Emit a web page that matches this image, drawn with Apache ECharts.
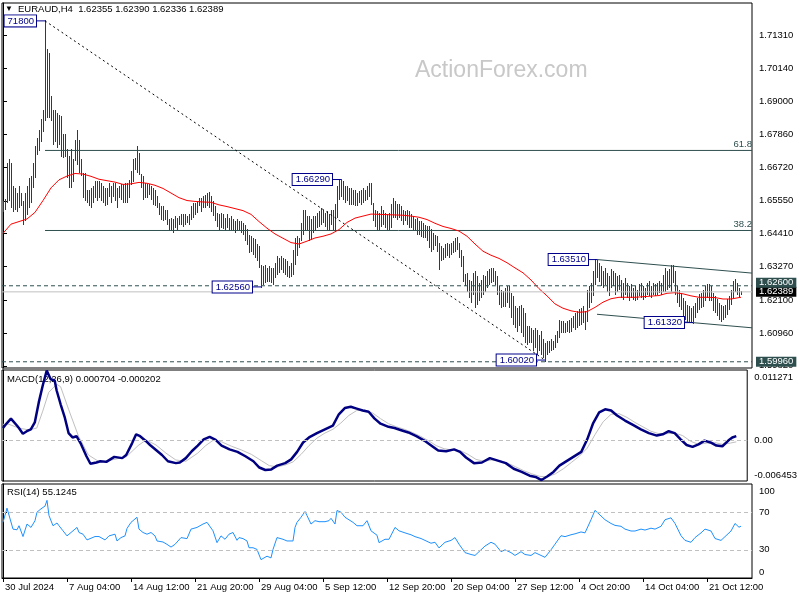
<!DOCTYPE html>
<html><head><meta charset="utf-8">
<script src="https://cdn.jsdelivr.net/npm/echarts@6/dist/echarts.min.js"></script>
<style>html,body{margin:0;padding:0;background:#fff}#c{width:800px;height:600px}</style>
</head><body><div id="c"></div>
<script>
// ---------------- data ----------------
const headerSymbol = 'EURAUD,H4';
const headerOHLC = ['1.62355', '1.62390', '1.62336', '1.62389'];
const macdTitle = 'MACD(12,26,9)';
const macdValues = ['0.000704', '-0.000202'];
const rsiTitle = 'RSI(14)';
const rsiValue = '55.1245';
const watermark = 'ActionForex.com';

const timeLabels = ['30 Jul 2024', '7 Aug 04:00', '14 Aug 12:00', '21 Aug 20:00', '29 Aug 04:00', '5 Sep 12:00',
  '12 Sep 20:00', '20 Sep 04:00', '27 Sep 12:00', '4 Oct 20:00', '14 Oct 04:00', '21 Oct 12:00'];
const timeLabelBars = [0, 32, 64, 96, 128, 160, 192, 224, 256, 288, 320, 352];
const priceTicks = [1.71310, 1.70140, 1.69000, 1.67860, 1.66720, 1.65550, 1.64410, 1.63270, 1.62100, 1.60960, 1.59820];
const priceMin = 1.59744, priceMax = 1.72421;
const macdTicks = [0.011271, 0, -0.006453];
const rsiTicks = [100, 70, 30, 0];
const rsiLevels = [70, 30];
const emptyBarsRight = 5;

// H4 bar highs / lows (bar 0 = 30 Jul 20:00)
const highs = [
1.6552,1.6558,1.6685,1.6699,1.6685,1.6604,1.6598,1.6581,1.6604,1.6581,
1.6552,1.6581,1.6604,1.6633,1.6639,1.6685,1.6743,1.6772,1.6801,1.6836,
1.6870,1.7180,1.7079,1.7067,1.6917,1.6870,1.6870,1.6859,1.6853,1.6847,
1.6784,1.6784,1.6732,1.6708,1.6732,1.6697,1.6766,1.6801,1.6766,1.6697,
1.6651,1.6651,1.6592,1.6592,1.6598,1.6604,1.6621,1.6621,1.6621,1.6616,
1.6604,1.6598,1.6598,1.6616,1.6604,1.6616,1.6616,1.6598,1.6604,1.6610,
1.6610,1.6616,1.6616,1.6627,1.6656,1.6697,1.6703,1.6745,1.6720,1.6645,
1.6639,1.6616,1.6610,1.6610,1.6604,1.6598,1.6592,1.6569,1.6546,1.6535,
1.6535,1.6523,1.6523,1.6489,1.6494,1.6489,1.6500,1.6494,1.6500,1.6506,
1.6506,1.6506,1.6500,1.6506,1.6535,1.6546,1.6546,1.6552,1.6564,1.6564,
1.6569,1.6575,1.6581,1.6583,1.6569,1.6552,1.6535,1.6512,1.6506,1.6512,
1.6506,1.6494,1.6506,1.6494,1.6500,1.6489,1.6483,1.6489,1.6483,1.6483,
1.6477,1.6471,1.6454,1.6436,1.6431,1.6425,1.6419,1.6402,1.6396,1.6332,
1.6326,1.6332,1.6321,1.6326,1.6321,1.6321,1.6338,1.6361,1.6355,1.6361,
1.6355,1.6350,1.6344,1.6326,1.6338,1.6384,1.6425,1.6431,1.6425,1.6477,
1.6523,1.6523,1.6500,1.6500,1.6489,1.6500,1.6500,1.6512,1.6517,1.6529,
1.6523,1.6512,1.6517,1.6506,1.6523,1.6523,1.6541,1.6604,1.6629,1.6629,
1.6622,1.6604,1.6604,1.6598,1.6598,1.6592,1.6592,1.6581,1.6587,1.6592,
1.6598,1.6592,1.6604,1.6616,1.6616,1.6546,1.6523,1.6517,1.6512,1.6535,
1.6523,1.6512,1.6506,1.6512,1.6541,1.6564,1.6552,1.6541,1.6541,1.6535,
1.6523,1.6517,1.6523,1.6517,1.6506,1.6500,1.6489,1.6494,1.6483,1.6483,
1.6477,1.6471,1.6465,1.6465,1.6454,1.6442,1.6436,1.6431,1.6407,1.6396,
1.6390,1.6402,1.6407,1.6402,1.6407,1.6413,1.6425,1.6428,1.6407,1.6384,
1.6361,1.6298,1.6303,1.6280,1.6274,1.6303,1.6309,1.6292,1.6268,1.6280,
1.6297,1.6292,1.6309,1.6315,1.6321,1.6321,1.6309,1.6292,1.6257,1.6245,
1.6240,1.6251,1.6257,1.6257,1.6234,1.6222,1.6187,1.6182,1.6187,1.6193,
1.6182,1.6164,1.6118,1.6118,1.6112,1.6106,1.6112,1.6106,1.6089,1.6101,
1.6072,1.6060,1.6066,1.6066,1.6072,1.6066,1.6089,1.6101,1.6141,1.6135,
1.6135,1.6129,1.6135,1.6141,1.6147,1.6153,1.6164,1.6170,1.6176,1.6182,
1.6187,1.6170,1.6245,1.6257,1.6268,1.6309,1.6350,1.6351,1.6338,1.6326,
1.6309,1.6321,1.6303,1.6292,1.6315,1.6309,1.6303,1.6292,1.6297,1.6280,
1.6268,1.6286,1.6268,1.6257,1.6263,1.6251,1.6257,1.6245,1.6263,1.6268,
1.6257,1.6251,1.6268,1.6274,1.6257,1.6268,1.6263,1.6268,1.6274,1.6268,
1.6297,1.6321,1.6309,1.6315,1.6329,1.6332,1.6309,1.6257,1.6245,1.6234,
1.6216,1.6205,1.6193,1.6187,1.6182,1.6187,1.6199,1.6216,1.6228,1.6234,
1.6245,1.6257,1.6263,1.6263,1.6257,1.6234,1.6222,1.6211,1.6199,1.6193,
1.6187,1.6193,1.6211,1.6222,1.6245,1.6274,1.6282,1.6268,1.6251,1.62390
];
const lows = [
1.6523,1.6529,1.6552,1.6558,1.6535,1.6523,1.6529,1.6523,1.6535,1.6541,
1.6477,1.6489,1.6512,1.6535,1.6552,1.6604,1.6639,1.6720,1.6732,1.6766,
1.6801,1.6836,1.6847,1.6847,1.6836,1.6755,1.6766,1.6743,1.6755,1.6714,
1.6708,1.6714,1.6639,1.6604,1.6604,1.6627,1.6697,1.6685,1.6656,1.6645,
1.6569,1.6558,1.6552,1.6541,1.6535,1.6552,1.6569,1.6558,1.6569,1.6558,
1.6552,1.6541,1.6546,1.6575,1.6552,1.6575,1.6558,1.6535,1.6569,1.6564,
1.6552,1.6552,1.6552,1.6569,1.6616,1.6627,1.6668,1.6656,1.6651,1.6604,
1.6564,1.6569,1.6569,1.6581,1.6564,1.6546,1.6541,1.6535,1.6512,1.6494,
1.6489,1.6494,1.6477,1.6454,1.6454,1.6448,1.6465,1.6460,1.6477,1.6477,
1.6471,1.6477,1.6483,1.6477,1.6494,1.6500,1.6512,1.6517,1.6541,1.6523,
1.6535,1.6535,1.6541,1.6535,1.6523,1.6506,1.6489,1.6471,1.6460,1.6465,
1.6463,1.6460,1.6465,1.6454,1.6460,1.6454,1.6448,1.6456,1.6454,1.6448,
1.6442,1.6419,1.6407,1.6378,1.6384,1.6373,1.6361,1.6350,1.6326,1.6256,
1.6268,1.6274,1.6280,1.6280,1.6274,1.6268,1.6292,1.6303,1.6309,1.6321,
1.6309,1.6303,1.6297,1.6292,1.6297,1.6303,1.6338,1.6367,1.6396,1.6419,
1.6442,1.6454,1.6454,1.6419,1.6425,1.6448,1.6454,1.6465,1.6471,1.6477,
1.6483,1.6471,1.6460,1.6454,1.6477,1.6460,1.6456,1.6500,1.6564,1.6575,
1.6564,1.6552,1.6558,1.6546,1.6546,1.6546,1.6541,1.6541,1.6552,1.6546,
1.6552,1.6558,1.6564,1.6575,1.6546,1.6489,1.6471,1.6454,1.6454,1.6471,
1.6477,1.6465,1.6460,1.6460,1.6465,1.6500,1.6500,1.6494,1.6500,1.6489,
1.6477,1.6489,1.6477,1.6465,1.6465,1.6460,1.6454,1.6442,1.6442,1.6436,
1.6431,1.6431,1.6419,1.6396,1.6384,1.6390,1.6402,1.6384,1.6321,1.6350,
1.6355,1.6361,1.6367,1.6361,1.6373,1.6378,1.6384,1.6390,1.6361,1.6332,
1.6280,1.6263,1.6245,1.6222,1.6205,1.6234,1.6187,1.6199,1.6211,1.6222,
1.6234,1.6245,1.6257,1.6268,1.6274,1.6280,1.6268,1.6234,1.6199,1.6187,
1.6193,1.6193,1.6205,1.6187,1.6153,1.6130,1.6118,1.6106,1.6124,1.6101,
1.6089,1.6066,1.6060,1.6066,1.6066,1.6037,1.6049,1.6025,1.6037,1.6025,
1.6015,1.6002,1.6025,1.6031,1.6037,1.6043,1.6049,1.6066,1.6083,1.6101,
1.6101,1.6101,1.6106,1.6101,1.6106,1.6118,1.6112,1.6118,1.6124,1.6130,
1.6135,1.6112,1.6141,1.6187,1.6205,1.6228,1.6268,1.6292,1.6280,1.6263,
1.6257,1.6268,1.6245,1.6228,1.6257,1.6263,1.6234,1.6245,1.6251,1.6222,
1.6216,1.6234,1.6222,1.6211,1.6222,1.6216,1.6211,1.6216,1.6228,1.6222,
1.6216,1.6222,1.6234,1.6228,1.6222,1.6234,1.6228,1.6234,1.6240,1.6234,
1.6245,1.6245,1.6251,1.6257,1.6245,1.6274,1.6234,1.6205,1.6193,1.6182,
1.6159,1.6147,1.6141,1.6135,1.6139,1.6132,1.6153,1.6170,1.6182,1.6187,
1.6193,1.6211,1.6222,1.6211,1.6211,1.6176,1.6170,1.6159,1.6147,1.6141,
1.6147,1.6153,1.6164,1.6182,1.6199,1.6222,1.6245,1.6234,1.6222,1.62336
];

// moving average (red) read at [bar, price]
const maPoints = [[0,1.6442],[4,1.6474],[8,1.6483],[12,1.6492],[16,1.6515],[20,1.6556],[24,1.6600],[28,1.6628],
[32,1.6641],[36,1.6650],[40,1.6648],[44,1.6640],[48,1.6630],[52,1.6625],[56,1.6620],[60,1.6612],[64,1.6614],
[68,1.6619],[72,1.6616],[76,1.6609],[80,1.6598],[84,1.6582],[88,1.6566],[92,1.6556],[96,1.6553],[100,1.6551],
[104,1.6550],[108,1.6541],[112,1.6535],[116,1.6528],[120,1.6521],[124,1.6508],[128,1.6483],[132,1.6460],
[136,1.6440],[140,1.6425],[144,1.6410],[148,1.6405],[152,1.6415],[156,1.6426],[160,1.6432],[164,1.6440],
[168,1.6455],[172,1.6480],[176,1.6495],[180,1.6502],[184,1.6509],[188,1.6508],[192,1.6507],[196,1.6506],
[200,1.6505],[204,1.6502],[208,1.6498],[212,1.6490],[216,1.6477],[220,1.6466],[224,1.6459],[228,1.6450],
[232,1.6432],[236,1.6405],[240,1.6380],[244,1.6366],[248,1.6355],[252,1.6340],[256,1.6322],[260,1.6305],
[264,1.6280],[268,1.6250],[272,1.6225],[276,1.6197],[280,1.6182],[284,1.6173],[288,1.6168],[292,1.6170],
[296,1.6185],[300,1.6203],[304,1.6215],[308,1.6220],[312,1.6220],[316,1.6220],[320,1.6222],[324,1.6224],
[328,1.6226],[332,1.6234],[336,1.6236],[340,1.6232],[344,1.6225],[348,1.6220],[352,1.6220],[356,1.6219],
[360,1.6214],[364,1.6214],[368,1.6219],[369,1.6220]];

const macdPoints = [[0,0.0020],[2,0.0028],[4,0.0035],[7,0.0024],[8,0.0020],[10,0.0011],[12,0.0015],[14,0.0018],
[16,0.0029],[18,0.0061],[20,0.0088],[22,0.0112],[24,0.0098],[26,0.0096],[27,0.0080],[29,0.0058],[31,0.0038],
[33,0.0012],[35,0.0005],[37,0.0007],[39,-0.0004],[42,-0.0025],[44,-0.0037],[47,-0.0035],[49,-0.0033],
[52,-0.0034],[54,-0.0030],[56,-0.0026],[60,-0.0028],[62,-0.0023],[65,-0.0004],[67,0.0010],[69,0.0007],
[72,-0.0001],[74,-0.0007],[77,-0.0015],[80,-0.0023],[83,-0.0033],[87,-0.0036],[89,-0.0035],[92,-0.0028],
[95,-0.0017],[98,-0.0008],[101,0.0002],[104,0.0006],[107,0.0001],[110,-0.0008],[114,-0.0014],[118,-0.0018],
[122,-0.0025],[126,-0.0033],[129,-0.0043],[132,-0.0047],[135,-0.0046],[138,-0.0040],[142,-0.0036],
[145,-0.0030],[148,-0.0018],[151,-0.0003],[154,0.0005],[158,0.0012],[162,0.0018],[166,0.0024],[169,0.0042],
[172,0.0052],[175,0.0054],[178,0.0051],[181,0.0048],[184,0.0046],[187,0.0035],[190,0.0027],[194,0.0022],
[197,0.0020],[200,0.0017],[204,0.0013],[208,0.0007],[212,0.0000],[216,-0.0009],[219,-0.0016],[223,-0.0017],
[227,-0.0014],[230,-0.0018],[233,-0.0027],[237,-0.0036],[241,-0.0035],[245,-0.0028],[249,-0.0032],
[253,-0.0036],[257,-0.0045],[261,-0.0050],[265,-0.0056],[268,-0.0058],[271,-0.0063],[274,-0.0057],
[277,-0.0050],[280,-0.0040],[284,-0.0032],[288,-0.0024],[291,-0.0018],[294,0.0002],[297,0.0028],[300,0.0045],
[303,0.0050],[306,0.0048],[309,0.0040],[313,0.0032],[317,0.0025],[321,0.0018],[325,0.0012],[329,0.0008],
[332,0.0010],[335,0.0015],[338,0.0012],[341,0.0002],[344,-0.0007],[347,-0.0010],[350,-0.0006],[353,0.0000],
[356,-0.0003],[359,-0.0008],[362,-0.0009],[365,0.0000],[367,0.0005],[369,0.000704]];

const signalPoints = [[0,0.0026],[3,0.0026],[8,0.0020],[13,0.0017],[17,0.0020],[20,0.0047],[23,0.0077],
[27,0.0090],[29,0.0086],[33,0.0050],[38,0.0007],[43,-0.0023],[48,-0.0033],[53,-0.0032],[62,-0.0026],
[68,-0.0008],[72,0.0001],[77,-0.0007],[82,-0.0020],[87,-0.0031],[92,-0.0033],[98,-0.0020],[102,-0.0008],
[106,0.0001],[110,-0.0002],[115,-0.0009],[120,-0.0015],[125,-0.0022],[130,-0.0032],[134,-0.0040],
[138,-0.0042],[142,-0.0039],[146,-0.0034],[150,-0.0022],[154,-0.0008],[158,0.0004],[162,0.0012],
[166,0.0018],[170,0.0028],[174,0.0040],[178,0.0048],[182,0.0049],[186,0.0044],[190,0.0035],[194,0.0027],
[198,0.0022],[202,0.0018],[206,0.0013],[210,0.0007],[214,0.0000],[218,-0.0008],[222,-0.0013],[226,-0.0015],
[230,-0.0016],[234,-0.0022],[238,-0.0030],[242,-0.0033],[246,-0.0031],[250,-0.0032],[254,-0.0036],
[258,-0.0042],[262,-0.0048],[266,-0.0053],[270,-0.0057],[274,-0.0058],[278,-0.0053],[282,-0.0045],
[286,-0.0035],[290,-0.0025],[294,-0.0012],[298,0.0010],[302,0.0030],[306,0.0042],[310,0.0043],[314,0.0037],
[318,0.0029],[322,0.0022],[326,0.0015],[330,0.0011],[334,0.0011],[338,0.0012],[342,0.0008],[346,-0.0001],
[350,-0.0006],[354,-0.0004],[358,-0.0003],[362,-0.0006],[366,-0.0004],[369,-0.000202]];

const rsiPoints = [[0,59.2],[2,74.3],[3,72.9],[5,52.0],[7,51.3],[8,55.6],[10,44.1],[12,57.4],[13,59.2],[14,53.8],
[16,61.0],[17,70.0],[19,73.6],[21,76.5],[22,82.6],[23,66.4],[25,55.6],[27,58.5],[28,55.6],[30,50.2],[32,44.8],
[33,44.8],[35,50.2],[37,53.8],[38,48.4],[40,46.6],[42,40.5],[43,41.9],[46,44.1],[48,44.1],[51,40.5],[53,44.8],
[56,46.6],[57,39.4],[59,43.0],[61,44.8],[62,52.7],[64,59.2],[67,64.6],[68,52.0],[70,48.4],[72,46.6],[74,48.4],
[76,44.8],[77,39.4],[80,38.3],[82,35.8],[84,32.9],[86,35.8],[87,35.8],[89,43.0],[92,41.9],[94,52.0],[97,53.8],
[98,52.0],[100,57.4],[102,59.2],[105,50.2],[107,37.6],[109,44.8],[111,41.2],[113,46.6],[115,48.4],[117,40.1],
[118,43.0],[120,41.9],[122,39.4],[123,32.2],[125,32.2],[127,30.4],[129,19.5],[132,23.2],[134,21.4],[135,30.4],
[137,43.0],[138,41.2],[140,41.2],[142,39.4],[143,39.4],[145,39.4],[146,53.8],[147,59.2],[149,64.6],[151,70.7],
[152,66.4],[154,57.4],[156,61.0],[158,59.9],[161,59.9],[163,61.0],[164,63.5],[166,57.4],[167,71.8],[169,70.0],
[171,64.6],[172,66.4],[175,59.2],[177,55.6],[180,55.6],[182,61.0],[184,50.2],[187,45.5],[188,37.6],[191,41.2],
[193,41.2],[196,53.8],[198,50.2],[201,48],[204,46],[206,44],[209,42],[211,40],[214,37],[216,38],[218,32],
[221,38],[224,40],[226,43],[228,36],[231,27],[234,25],[236,24],[239,30],[241,34],[244,38],[246,36],[249,28],
[251,30],[254,27],[256,24],[259,28],[261,25],[264,24],[266,27],[269,24],[271,22],[274,30],[276,36],[279,45],
[281,44],[284,46],[286,47],[289,49],[291,48],[294,62],[296,72],[299,66],[301,62],[304,58],[306,56],[309,55],
[311,52],[314,50],[316,50],[319,52],[321,51],[324,53],[326,52],[329,55],[331,62],[334,64],[336,58],[339,45],
[341,40],[344,38],[346,43],[349,48],[351,52],[354,50],[356,42],[359,40],[361,44],[364,50],[366,58],[368,54],
[369,55.1245]];

// drawing objects
const fibTexts = ['61.8', '38.2'];
const fibPrices = [1.6730, 1.6452];
const fibStartBar = 21;
const trendlinePoints = [[21, 1.7180], [271, 1.6002]];
const channelUpper = [[297, 1.6351], [374.5, 1.6304]];
const channelLower = [[297, 1.6161], [374.5, 1.6114]];
const swingBars = [21, 169, 129, 297, 345, 271];
const swingPrices = [1.7180, 1.6629, 1.6256, 1.6351, 1.6132, 1.6002];
const swingTexts = ['71800', '1.66290', '1.62560', '1.63510', '1.61320', '1.60020'];
const levelPrices = [1.62600, 1.59960];
const lastPrice = 1.62389;

// ---------------- chart ----------------
const FONT = '"Liberation Sans", Arial, sans-serif';
const FS = 9.5;
const BAR_COLOR = '#1a4254';
const OBJ_COLOR = '#2f4f4f';
const N = highs.length;
const SLOTS = N + emptyBarsRight;
const XMAX = SLOTS - 0.5;
const cats = Array.from({length: SLOTS}, (_, i) => String(i));
const barData = highs.map((h, i) => [i, h, lows[i]]);

const chart = echarts.init(document.getElementById('c'), null, {renderer: 'canvas', width: 800, height: 600});

const txt = {fontSize: FS, fontFamily: FONT, color: '#000'};
const series = [];

series.push({
  type: 'custom', xAxisIndex: 0, yAxisIndex: 0, data: barData, z: 3, silent: true,
  encode: {x: 0, y: [1, 2]},
  renderItem: function (params, api) {
    const i = api.value(0);
    const h = api.coord([i, api.value(1)]);
    const l = api.coord([i, api.value(2)]);
    const x = Math.round(h[0]) + 0.5;
    return {type: 'line', shape: {x1: x, y1: Math.floor(h[1]), x2: x, y2: Math.ceil(l[1]) + 1},
      style: {stroke: BAR_COLOR, lineWidth: 1}};
  }
});

function levelLine(price, color, dash, tagBg, tagShift, z) {
  return {type: 'line', xAxisIndex: 1, yAxisIndex: 0, silent: true, symbol: 'circle', symbolSize: 0, z: z,
    lineStyle: {color: color, width: 1, type: dash},
    data: [[-0.5, price], {value: [XMAX, price],
      label: {show: true, position: 'right', distance: 4, offset: [0, tagShift], formatter: price.toFixed(5),
        backgroundColor: tagBg, color: '#fff', padding: [0, 3, 0, 3], lineHeight: 10, fontSize: FS, fontFamily: FONT}}]};
}

series.push({type: 'line', xAxisIndex: 1, yAxisIndex: 0, data: maPoints, symbol: 'none', z: 4, silent: true,
  lineStyle: {color: '#ff0000', width: 1}});
series.push(levelLine(lastPrice, '#c0c0c0', 'solid', '#000', 0, 5));
series.push(levelLine(levelPrices[0], OBJ_COLOR, [4, 3], OBJ_COLOR, -3, 6));
series.push(levelLine(levelPrices[1], OBJ_COLOR, [4, 3], OBJ_COLOR, 0, 6));

fibPrices.forEach((p, k) => {
  series.push({type: 'line', xAxisIndex: 1, yAxisIndex: 0, silent: true, symbol: 'circle', symbolSize: 0, z: 3,
    lineStyle: {color: OBJ_COLOR, width: 1},
    data: [[fibStartBar, p], {value: [XMAX, p],
      label: {show: true, position: 'top', align: 'right', distance: 1, formatter: fibTexts[k],
        fontSize: FS, fontFamily: FONT, color: OBJ_COLOR}}]});
});

series.push({type: 'line', xAxisIndex: 1, yAxisIndex: 0, silent: true, symbol: 'none', z: 3,
  lineStyle: {color: '#000', width: 1, type: [2, 3]}, data: trendlinePoints});
[channelUpper, channelLower].forEach(d => series.push({type: 'line', xAxisIndex: 1, yAxisIndex: 0, silent: true,
  symbol: 'none', z: 3, lineStyle: {color: OBJ_COLOR, width: 1}, data: d}));

swingBars.forEach((b, k) => {
  series.push({type: 'line', xAxisIndex: 1, yAxisIndex: 0, silent: true, symbol: 'circle', symbolSize: 0, z: 7,
    lineStyle: {color: '#00008b', width: 1},
    data: [{value: [b - 4.5, swingPrices[k]],
      label: {show: true, position: 'left', distance: 0, formatter: swingTexts[k], fontSize: FS, fontFamily: FONT,
        color: '#00008b', backgroundColor: '#fff', borderColor: '#00008b', borderWidth: 1, padding: [1, 2, 0, 3]}},
      [b, swingPrices[k]]]});
});

series.push({type: 'line', xAxisIndex: 2, yAxisIndex: 1, data: signalPoints, symbol: 'none', silent: true, z: 3,
  lineStyle: {color: '#c0c0c0', width: 1},
  markLine: {silent: true, symbol: ['none', 'none'], label: {show: false}, precision: 6,
    lineStyle: {color: '#c0c0c0', type: [4, 3], width: 1}, data: [{yAxis: 0}]}});
series.push({type: 'line', xAxisIndex: 2, yAxisIndex: 1, data: macdPoints, symbol: 'none', silent: true, z: 4,
  lineStyle: {color: '#000080', width: 2.5}});

series.push({type: 'line', xAxisIndex: 3, yAxisIndex: 2, data: rsiPoints, symbol: 'none', silent: true, z: 4,
  lineStyle: {color: '#1e90ff', width: 1},
  markLine: {silent: true, symbol: ['none', 'none'], label: {show: false}, precision: 6,
    lineStyle: {color: '#c0c0c0', type: [4, 3], width: 1}, data: rsiLevels.map(v => ({yAxis: v}))}});

const edgeRich = {t: {padding: [15, 0, 0, 0], fontSize: FS, fontFamily: FONT}, b: {padding: [0, 0, 12, 0], fontSize: FS, fontFamily: FONT}};

const option = {
  animation: false,
  backgroundColor: '#fff',
  textStyle: {fontFamily: FONT},
  grid: [
    {left: 2, top: 3, width: 750, height: 365, show: true, borderColor: '#000', borderWidth: 1},
    {left: 2, top: 370, width: 750, height: 111, show: true, borderColor: '#000', borderWidth: 1},
    {left: 2, top: 484, width: 750, height: 94, show: true, borderColor: '#000', borderWidth: 1}
  ],
  xAxis: [
    {type: 'category', gridIndex: 0, data: cats, boundaryGap: true, show: false},
    {type: 'value', gridIndex: 0, min: -0.5, max: XMAX, show: false},
    {type: 'value', gridIndex: 1, min: -0.5, max: XMAX, show: false},
    {type: 'value', gridIndex: 2, min: -0.5, max: XMAX, splitLine: {show: false},
      axisLine: {show: true, lineStyle: {color: '#000'}},
      axisTick: {show: true, customValues: timeLabelBars, length: 4, lineStyle: {color: '#000'}},
      axisLabel: Object.assign({customValues: timeLabelBars, align: 'left', margin: 4, padding: [0, 0, 0, 2],
        formatter: v => timeLabels[timeLabelBars.indexOf(Math.round(v))] || ''}, txt)}
  ],
  yAxis: [
    {type: 'value', gridIndex: 0, position: 'right', min: priceMin, max: priceMax, splitLine: {show: false},
      axisLine: {show: true, lineStyle: {color: '#000'}},
      axisTick: {show: true, customValues: priceTicks, length: 4, lineStyle: {color: '#000'}},
      axisLabel: Object.assign({customValues: priceTicks, margin: 7, formatter: v => v.toFixed(5)}, txt)},
    {type: 'value', gridIndex: 1, position: 'right', min: macdTicks[2], max: macdTicks[0], splitLine: {show: false},
      axisLine: {show: true, lineStyle: {color: '#000'}},
      axisTick: {show: true, customValues: [0], length: 4, lineStyle: {color: '#000'}},
      axisLabel: Object.assign({customValues: macdTicks, margin: 7, rich: edgeRich,
        formatter: v => v === macdTicks[0] ? '{t|' + v + '}' : (v === macdTicks[2] ? '{b|' + v + '}' : '0.00')}, txt)},
    {type: 'value', gridIndex: 2, position: 'right', min: 0, max: 100, splitLine: {show: false},
      axisLine: {show: true, lineStyle: {color: '#000'}},
      axisTick: {show: true, customValues: rsiLevels, length: 4, lineStyle: {color: '#000'}},
      axisLabel: Object.assign({customValues: rsiTicks, margin: 7, rich: edgeRich,
        formatter: v => v === 100 ? '{t|100}' : (v === 0 ? '{b|0}' : String(v))}, txt)}
  ],
  graphic: [
    {type: 'text', left: 415, top: 59, z: -1, style: {text: watermark, fontSize: 23, fontFamily: FONT, fill: '#c8c8c8'}},
    {type: 'text', left: 5, top: 5, z: 10, style: {text: '\u25BC', fontSize: 8, fontFamily: FONT, fill: '#000'}},
    {type: 'text', left: 18, top: 4, z: 10, style: {text: headerSymbol + '  ' + headerOHLC.join(' '), fontSize: FS, fontFamily: FONT, fill: '#000'}},
    {type: 'text', left: 7, top: 374, z: 1, style: {text: macdTitle + ' ' + macdValues.join(' '), fontSize: FS, fontFamily: FONT, fill: '#000'}},
    {type: 'text', left: 7, top: 487, z: 1, style: {text: rsiTitle + ' ' + rsiValue, fontSize: FS, fontFamily: FONT, fill: '#000'}}
  ],
  series: series
};
chart.setOption(option);
</script>
</body></html>
